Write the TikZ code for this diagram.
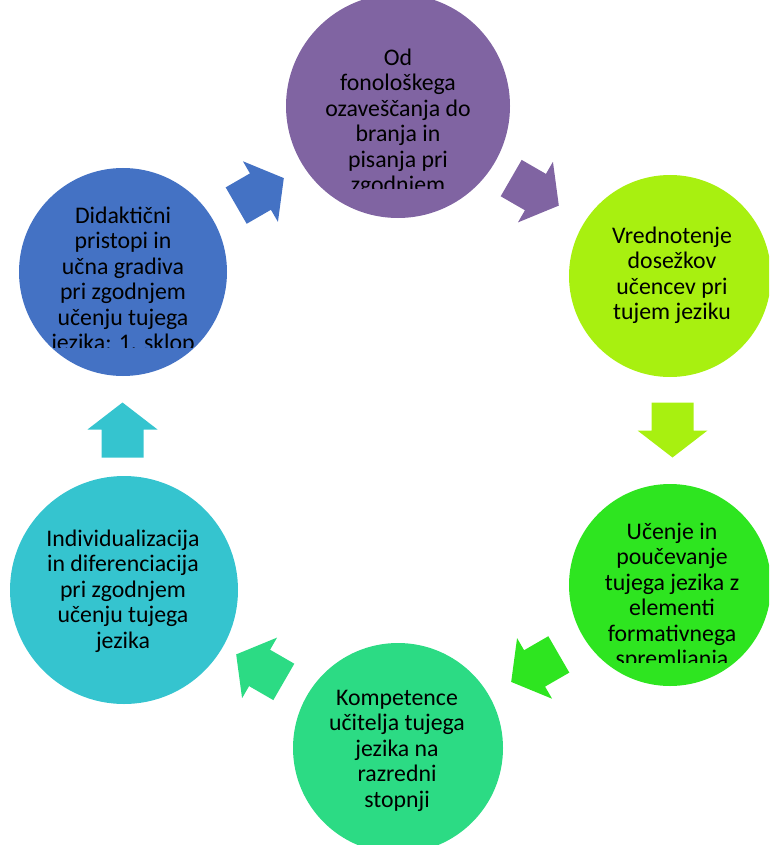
\documentclass[tikz,border=0pt]{standalone}
\usepackage{fontspec}
\setmainfont{Carlito}
\usetikzlibrary{calc}

\definecolor{cpurple}{HTML}{8064A2}
\definecolor{clime}{HTML}{A8F010}
\definecolor{cgreen}{HTML}{2EE520}
\definecolor{cmint}{HTML}{2CDB84}
\definecolor{ccyan}{HTML}{35C4CF}
\definecolor{cblue}{HTML}{4472C4}

\begin{document}
\begin{tikzpicture}[x=1pt,y=-1pt,
  stage/.style={circle, fill=#1, draw=none, inner sep=0pt},
  stagetext/.style={align=center, anchor=north, inner sep=0pt,
    font=\fontsize{23.8}{25.5}\selectfont, text=black},
  cyclearrow/.pic={
    \fill[#1] (-27.5pt,-21pt) -- (0.5pt,-21pt) -- (0.5pt,-35pt) -- (27.5pt,0pt)
      -- (0.5pt,35pt) -- (0.5pt,21pt) -- (-27.5pt,21pt) -- cycle;}]
\useasboundingbox (0,0) rectangle (769,845);
\clip (0,0) rectangle (769,845);

% centre of the cycle
\coordinate (o) at (397.5,430);

% the six stages
\node[stage=cpurple, minimum size=224pt] (p) at (398,106) {};
\node[stage=clime,   minimum size=202pt] (l) at (670,276) {};
\node[stage=cgreen,  minimum size=202pt] (g) at (670,585) {};
\node[stage=cmint,   minimum size=210pt] (m) at (398,748) {};
\node[stage=ccyan,   minimum size=228pt] (c) at (124,590) {};
\node[stage=cblue,   minimum size=208pt] (b) at (123,272) {};

% stage texts (long ones are cut off at the bottom of their text box)
\begin{scope}
  \clip (280,0) rectangle (520,188);
  \node[stagetext] (p-t) at (398,47.2) {\strut Od\\fonološkega\\ozaveščanja do\\branja in\\pisanja pri\\zgodnjem};
\end{scope}
\node[stagetext] (l-t) at (672,225.2) {\strut Vrednotenje\\dosežkov\\učencev pri\\tujem jeziku};
\begin{scope}
  \clip (560,480) rectangle (769,662);
  \node[stagetext] (g-t) at (672,521.2) {\strut Učenje in\\poučevanje\\tujega jezika z\\elementi\\formativnega\\spremljanja};
\end{scope}
\node[stagetext] (m-t) at (397,687.2) {\strut Kompetence\\učitelja tujega\\jezika na\\razredni\\stopnji};
\node[stagetext] (c-t) at (123,528.2) {\strut Individualizacija\\in diferenciacija\\pri zgodnjem\\učenju tujega\\jezika};
\begin{scope}
  \clip (0,150) rectangle (240,347);
  \node[stagetext] (b-t) at (123,205.2) {\strut Didaktični\\pristopi in\\učna gradiva\\pri zgodnjem\\učenju tujega\\jezika: 1. sklop};
\end{scope}

% block arrows running clockwise round the cycle
\pic[rotate=-30]  at ($(o)+(60:275pt)$)   {cyclearrow=cpurple};
\pic[rotate=-90]  at ($(o)+(0:275pt)$)    {cyclearrow=clime};
\pic[rotate=-150] at ($(o)+(-60:275pt)$)  {cyclearrow=cgreen};
\pic[rotate=150]  at ($(o)+(-120:275pt)$) {cyclearrow=cmint};
\pic[rotate=90]   at ($(o)+(180:275pt)$)  {cyclearrow=ccyan};
\pic[rotate=30]   at ($(o)+(120:275pt)$)  {cyclearrow=cblue};
\end{tikzpicture}
\end{document}
